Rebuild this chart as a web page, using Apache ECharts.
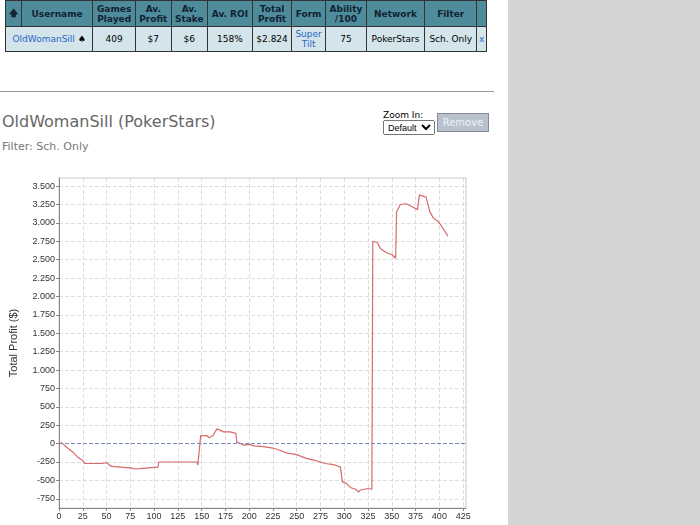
<!DOCTYPE html>
<html><head><meta charset="utf-8">
<script src="https://cdn.jsdelivr.net/npm/echarts@6/dist/echarts.min.js"></script>
<style>
body{margin:0;width:700px;height:525px;overflow:hidden;font-family:"DejaVu Sans",Arial,sans-serif;background:#fff;position:relative}
#side{position:absolute;left:508px;top:0;width:192px;height:525px;background:#d4d4d4}
table{position:absolute;left:5px;top:0;border-collapse:collapse;font-size:9px;width:482px}
th{background:#4f8c9b;color:#123;border:1px solid #333;height:25px;padding:0 1px;font-weight:bold}
td{background:#d3e4ea;border:1px solid #333;text-align:center;height:24px;padding:0 1px}
td a{color:#2a66c8}
#hr{position:absolute;left:0;top:91px;width:494px;border-top:1px solid #999}
#title{position:absolute;left:2px;top:112px;font-size:16px;color:#666}
#filter{position:absolute;left:2px;top:140px;font-size:11px;color:#777}
#zoom{position:absolute;left:383px;top:110px;font-size:9px}
#zoom select{font-size:9px;width:52px;height:15px}
#rm{position:absolute;left:437px;top:113px;width:50px;height:17px;background:#b9c2cc;color:#eef;border:1px solid #889;font-size:10px;text-align:center;line-height:17px}
#chart{position:absolute;left:0;top:170px;width:480px;height:355px}
</style></head><body>
<div id="side"></div>
<table><tr><th>&#129093;</th><th>Username</th><th>Games<br>Played</th><th>Av.<br>Profit</th><th>Av.<br>Stake</th><th>Av. ROI</th><th>Total<br>Profit</th><th>Form</th><th>Ability<br>/100</th><th>Network</th><th>Filter</th><th></th></tr>
<tr><td colspan="2"><a>OldWomanSill</a> &#9824;</td><td>409</td><td>$7</td><td>$6</td><td>158%</td><td>$2.824</td><td><a>Super<br>Tilt</a></td><td>75</td><td>PokerStars</td><td>Sch. Only</td><td><a>x</a></td></tr></table>
<div id="hr"></div>
<div id="title">OldWomanSill (PokerStars)</div>
<div id="filter">Filter: Sch. Only</div>
<div id="zoom">Zoom In:<br><select><option>Default</option></select></div>
<div id="rm">Remove</div>
<div id="chart"></div>
<script>
var games = [0,3,5,8,15,20,25,27,45,47,50,52,55,65,75,80,85,87,104,105,145,146,148,149,155,158,162,164,166,170,173,180,186,187,195,200,205,215,225,230,240,250,260,270,280,290,296,298,302,307,312,315,317,325,327,329,330,335,338,345,350,354,355,357,359,365,370,377,378,379,381,386,390,394,398,401,404,409];
var profit = [0,10,0,-50,-120,-190,-230,-270,-270,-290,-260,-270,-310,-320,-330,-345,-340,-320,-320,-250,-250,-290,-290,110,110,80,110,95,200,180,160,160,140,20,-20,-10,-30,-40,-60,-80,-130,-150,-200,-230,-270,-290,-320,-520,-540,-600,-620,-660,-630,-610,-620,-620,2750,2730,2650,2590,2570,2520,3150,3200,3250,3260,3230,3180,3170,3380,3390,3350,3150,3060,3030,2980,2920,2820];
var yTicks = [-750,-500,-250,0,250,500,750,1000,1250,1500,1750,2000,2250,2500,2750,3000,3250,3500];

(function() {
  var myChart = echarts.init(document.getElementById("chart"));
  var data = games.map(function(g, i) { return [g, profit[i]]; });
  var fmt = function(v) { return String(v).replace(/(\d)(\d{3})$/, '$1.$2'); };
  var option = {
    animation: false,
    grid: { left: 55, right: 14, top: 8, bottom: 17, show: true, borderColor: '#ccc', borderWidth: 1 },
    xAxis: {
      type: 'value', min: 0, max: 428, interval: 25,
      axisLine: { onZero: false, lineStyle: { color: '#888' } },
      axisTick: { length: 3, lineStyle: { color: '#888' } },
      axisLabel: { color: '#333', fontSize: 9, margin: 4, showMaxLabel: false },
      splitLine: { show: true, lineStyle: { color: '#ddd', type: 'dashed' } }
    },
    yAxis: {
      type: 'value', min: -875, max: 3610,
      name: 'Total Profit ($)', nameLocation: 'middle', nameGap: 40,
      nameTextStyle: { fontSize: 11, color: '#333' },
      axisLine: { show: true, lineStyle: { color: '#888' } },
      axisTick: { show: true, length: 3, customValues: yTicks, lineStyle: { color: '#888' } },
      axisLabel: { color: '#333', fontSize: 9, margin: 4, customValues: yTicks, formatter: fmt },
      splitLine: { show: true, lineStyle: { color: '#ddd', type: 'dashed' } }
    },
    series: [{
      type: 'line', data: data, symbol: 'none',
      lineStyle: { color: '#d86a6a', width: 1.2 },
      markLine: {
        silent: true, symbol: 'none', label: { show: false },
        lineStyle: { color: '#7a8ac8', type: 'dashed', width: 1 },
        data: [{ yAxis: 0 }]
      }
    }]
  };
  myChart.setOption(option);
})();
</script>
</body></html>
